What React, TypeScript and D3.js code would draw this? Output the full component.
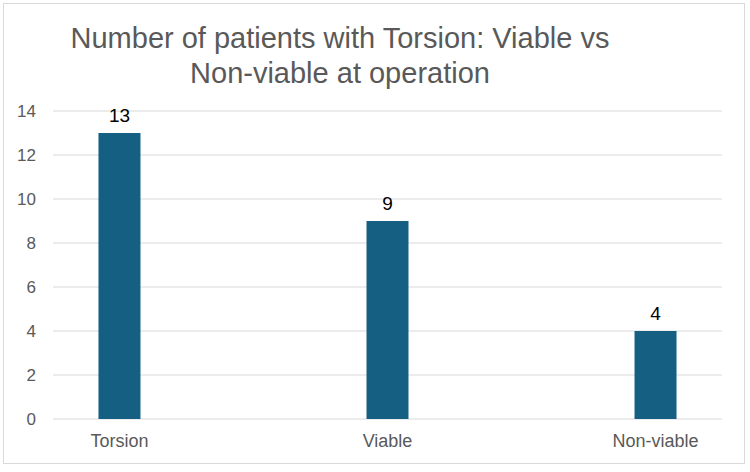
import React from "react";
import * as d3 from "d3";

const categories = ["Torsion", "Viable", "Non-viable"];
const patients = [13, 9, 4];
const yTicks = [0, 2, 4, 6, 8, 10, 12, 14];
const titleLines = ["Number of patients with Torsion: Viable vs", "Non-viable at operation"];

const W = 750;
const H = 472;
const plot = { left: 53, right: 722, top: 111, bottom: 419 };
const font = "Arial, 'Liberation Sans', sans-serif";

export default function App() {
  const x = d3
    .scalePoint<string>()
    .domain(categories)
    .range([plot.left, plot.right])
    .padding(0.248);
  const y = d3.scaleLinear().domain([0, 14]).range([plot.bottom, plot.top]);
  const barW = 42;

  return (
    <svg
      width={W}
      height={H}
      style={{ position: "absolute", left: 0, top: 0, background: "#fff" }}
      fontFamily={font}
    >
      <rect x={3.5} y={3.5} width={741} height={460} fill="#fff" stroke="#d9d9d9" strokeWidth={1} />
      {titleLines.map((t, i) => (
        <text key={i} x={340} y={48 + i * 35} textAnchor="middle" fontSize={29} fill="#595959">
          {t}
        </text>
      ))}
      {yTicks.map((v) => (
        <g key={v}>
          <line x1={plot.left} x2={plot.right} y1={y(v)} y2={y(v)} stroke="#d9d9d9" strokeWidth={1} />
          <text x={36} y={y(v)} dy="0.35em" textAnchor="end" fontSize={17} fill="#595959">
            {v}
          </text>
        </g>
      ))}
      {categories.map((c, i) => (
        <g key={c}>
          <rect
            x={(x(c) as number) - barW / 2}
            y={y(patients[i])}
            width={barW}
            height={y(0) - y(patients[i])}
            fill="#156082"
          />
          <text x={x(c)} y={y(patients[i]) - 11} textAnchor="middle" fontSize={19} fill="#000">
            {patients[i]}
          </text>
          <text x={x(c)} y={447} textAnchor="middle" fontSize={18} fill="#595959">
            {c}
          </text>
        </g>
      ))}
    </svg>
  );
}
